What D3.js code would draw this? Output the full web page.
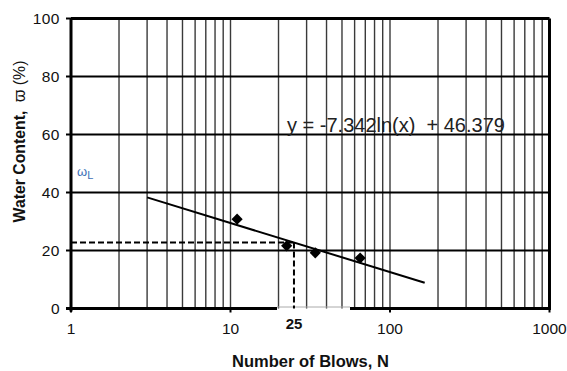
<!DOCTYPE html>
<html>
<head>
<meta charset="utf-8">
<script src="https://cdn.jsdelivr.net/npm/d3@7"></script>
<style>
  html, body { margin: 0; padding: 0; background: #fff; }
  svg { display: block; font-family: "Liberation Sans", Arial, sans-serif; }
  text { white-space: pre; }
</style>
</head>
<body>
<svg id="chart" width="567" height="371"></svg>
<script>
// Data
const blows = [11, 22.5, 34, 65];
const waterContent = [30.8, 21.6, 19.2, 17.4];
const slope = -7.342;
const intercept = 46.379;
const trendRange = [3, 165];
const nTarget = 25;
const xTickValues = [1, 10, 100, 1000];
const yTickValues = [0, 20, 40, 60, 80, 100];
const equationText = "y = -7.342ln(x)  + 46.379";

const svg = d3.select("#chart");
const margin = { top: 18.5, right: 17.5, bottom: 62.5, left: 71 };
const width = +svg.attr("width");
const height = +svg.attr("height");
const innerW = width - margin.left - margin.right;
const innerH = height - margin.top - margin.bottom;

const x = d3.scaleLog().domain([1, 1000]).range([0, innerW]);
const y = d3.scaleLinear().domain([0, 100]).range([innerH, 0]);

const g = svg.append("g")
  .attr("transform", `translate(${margin.left},${margin.top})`);

// Log grid (2..9 in each decade, plus 10 and 100)
const minor = [];
for (let d = 1; d < 1000; d *= 10) {
  for (let k = 2; k <= 9; k++) minor.push(d * k);
}
g.selectAll(".vgrid")
  .data(minor.concat([10, 100]))
  .enter()
  .append("line")
  .attr("x1", d => x(d))
  .attr("x2", d => x(d))
  .attr("y1", 0)
  .attr("y2", innerH)
  .attr("stroke", "#3a3a3a")
  .attr("stroke-width", 1.4);

// Horizontal grid
g.selectAll(".hgrid")
  .data([20, 40, 60, 80])
  .enter()
  .append("line")
  .attr("x1", 0)
  .attr("x2", innerW)
  .attr("y1", d => y(d))
  .attr("y2", d => y(d))
  .attr("stroke", "#000")
  .attr("stroke-width", 2);

// Frame: top, right, left
g.append("line").attr("x1", 0).attr("x2", innerW).attr("y1", 0).attr("y2", 0)
  .attr("stroke", "#000").attr("stroke-width", 3);
g.append("line").attr("x1", innerW).attr("x2", innerW).attr("y1", 0).attr("y2", innerH)
  .attr("stroke", "#000").attr("stroke-width", 3);
g.append("line").attr("x1", 0).attr("x2", 0).attr("y1", 0).attr("y2", innerH + 3)
  .attr("stroke", "#000").attr("stroke-width", 3);

// Bottom axis line, interrupted around the "25" label
const gapL = 277 - margin.left;
const gapR = 350 - margin.left;
g.append("line").attr("x1", -5).attr("x2", gapL).attr("y1", innerH).attr("y2", innerH)
  .attr("stroke", "#000").attr("stroke-width", 3);
g.append("line").attr("x1", gapR).attr("x2", innerW + 1.5).attr("y1", innerH).attr("y2", innerH)
  .attr("stroke", "#000").attr("stroke-width", 3);
g.append("line").attr("x1", gapL).attr("x2", gapR).attr("y1", innerH - 1.5).attr("y2", innerH - 1.5)
  .attr("stroke", "#aaa").attr("stroke-width", 1);

// Y ticks and labels
g.selectAll(".ytick")
  .data(yTickValues)
  .enter()
  .append("line")
  .attr("x1", -5)
  .attr("x2", 0)
  .attr("y1", d => y(d))
  .attr("y2", d => y(d))
  .attr("stroke", "#000")
  .attr("stroke-width", 2);

g.selectAll(".ylabel")
  .data(yTickValues)
  .enter()
  .append("text")
  .attr("x", -11)
  .attr("y", d => y(d))
  .attr("dy", "0.36em")
  .attr("text-anchor", "end")
  .attr("font-size", "15.5px")
  .attr("letter-spacing", "0.5px")
  .attr("fill", "#111")
  .text(d => d);

// X ticks and labels
g.selectAll(".xtick")
  .data(xTickValues)
  .enter()
  .append("line")
  .attr("x1", d => x(d))
  .attr("x2", d => x(d))
  .attr("y1", innerH)
  .attr("y2", innerH + 4)
  .attr("stroke", "#000")
  .attr("stroke-width", 2);

g.selectAll(".xlabel")
  .data(xTickValues)
  .enter()
  .append("text")
  .attr("x", d => x(d))
  .attr("y", innerH + 25)
  .attr("text-anchor", "middle")
  .attr("font-size", "15.5px")
  .attr("fill", "#111")
  .text(d => d);

g.append("text")
  .attr("x", x(nTarget))
  .attr("y", innerH + 20)
  .attr("text-anchor", "middle")
  .attr("font-size", "15px")
  .attr("font-weight", "bold")
  .attr("fill", "#111")
  .text(nTarget);

// Dashed lines at N = 25
const wAt25 = slope * Math.log(nTarget) + intercept;
g.append("line")
  .attr("x1", 0).attr("x2", x(nTarget))
  .attr("y1", y(wAt25)).attr("y2", y(wAt25))
  .attr("stroke", "#000").attr("stroke-width", 2)
  .attr("stroke-dasharray", "6,3");
g.append("line")
  .attr("x1", x(nTarget)).attr("x2", x(nTarget))
  .attr("y1", y(wAt25)).attr("y2", innerH)
  .attr("stroke", "#000").attr("stroke-width", 2)
  .attr("stroke-dasharray", "6,3");

// Trend line
const trend = trendRange.map(n => [n, slope * Math.log(n) + intercept]);
g.append("path")
  .datum(trend)
  .attr("fill", "none")
  .attr("stroke", "#000")
  .attr("stroke-width", 2)
  .attr("d", d3.line().x(d => x(d[0])).y(d => y(d[1])));

// Data points (diamonds)
const points = blows.map((n, i) => ({ n, w: waterContent[i] }));
g.selectAll(".pt")
  .data(points)
  .enter()
  .append("path")
  .attr("transform", d => `translate(${x(d.n)},${y(d.w)})`)
  .attr("d", d3.symbol().type(d3.symbolDiamond2).size(80))
  .attr("fill", "#000");

// Equation label
g.append("text")
  .attr("x", 287 - margin.left)
  .attr("y", 132 - margin.top)
  .attr("font-size", "20px")
  .attr("fill", "#222")
  .text(equationText);

// Liquid limit label
const wl = g.append("text")
  .attr("x", 77 - margin.left)
  .attr("y", 176 - margin.top)
  .attr("font-size", "13px")
  .attr("fill", "#3d6fb6");
wl.append("tspan").text("ω");
wl.append("tspan").attr("font-size", "11px").attr("dy", 3).text("L");

// Axis titles
svg.append("text")
  .attr("x", 310.5)
  .attr("y", 367)
  .attr("text-anchor", "middle")
  .attr("font-size", "16.5px")
  .attr("font-weight", "bold")
  .attr("fill", "#111")
  .text("Number of Blows, N");

const yt = svg.append("text")
  .attr("transform", "translate(24.5,141.5) rotate(-90)")
  .attr("text-anchor", "middle")
  .attr("font-size", "15.8px")
  .attr("font-weight", "bold")
  .attr("fill", "#111");
yt.append("tspan").text("Water Content,  ");
yt.append("tspan").attr("font-weight", "normal").text("ϖ (%)");
</script>
</body>
</html>
